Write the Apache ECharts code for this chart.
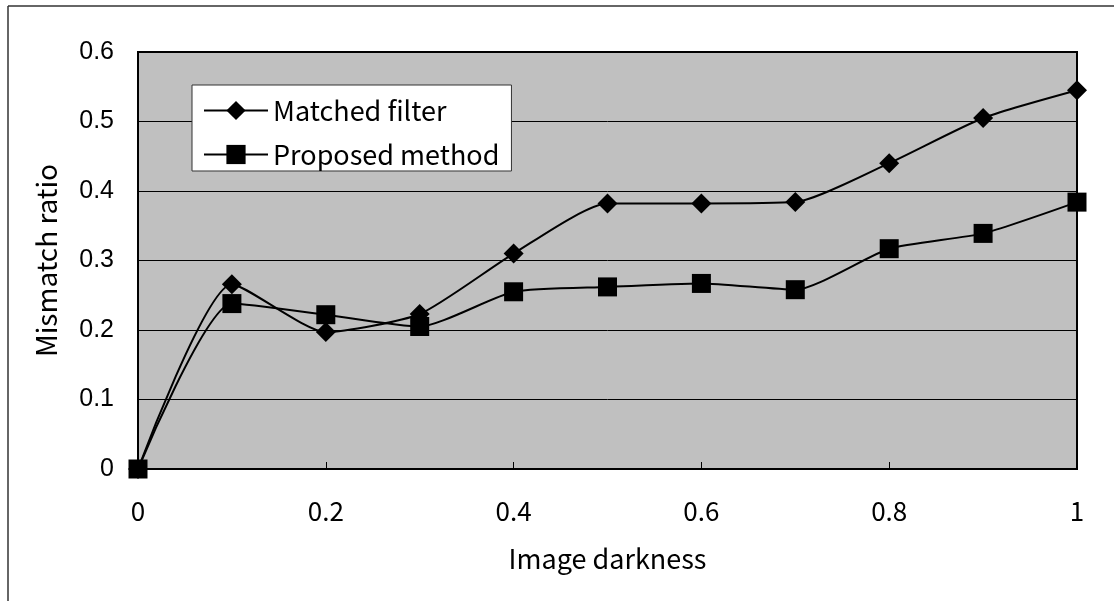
<!DOCTYPE html>
<html>
<head>
<meta charset="utf-8">
<script src="https://cdn.jsdelivr.net/npm/echarts@6/dist/echarts.min.js"></script>
<style>
  html, body { margin: 0; padding: 0; background: #fff; }
  #chart { width: 1114px; height: 601px; }
</style>
</head>
<body>
<div id="chart"></div>
<script>
// x positions (image darkness)
const darkness = [0, 0.1, 0.2, 0.3, 0.4, 0.5, 0.6, 0.7, 0.8, 0.9, 1.0];
// mismatch ratio
const matchedFilter = [0, 0.266, 0.197, 0.223, 0.31, 0.382, 0.382, 0.384, 0.44, 0.505, 0.545];
const proposedMethod = [0, 0.238, 0.222, 0.205, 0.255, 0.262, 0.267, 0.258, 0.317, 0.339, 0.384];

const seriesNames = ['Matched filter', 'Proposed method'];

const toPairs = (ys) => darkness.map((x, i) => [x, ys[i]]);

const chart = echarts.init(document.getElementById('chart'));

const jpFont = '"Noto Sans CJK JP", "Noto Sans", sans-serif';

chart.setOption({
  backgroundColor: '#fff',
  animation: false,
  graphic: [
    // outer frame (left and top edge only)
    { type: 'line', shape: { x1: 8, y1: 6, x2: 8, y2: 601 }, style: { stroke: '#333', lineWidth: 1.5 } },
    { type: 'line', shape: { x1: 8, y1: 6, x2: 1114, y2: 6 }, style: { stroke: '#333', lineWidth: 1.5 } },
  ],
  grid: {
    left: 138,
    top: 52,
    right: 37,
    bottom: 132,
    show: true,
    backgroundColor: '#c0c0c0',
    borderColor: '#000',
    borderWidth: 2,
  },
  legend: {
    left: 192,
    top: 85,
    orient: 'vertical',
    data: seriesNames,
    backgroundColor: '#fff',
    borderColor: '#333',
    borderWidth: 1,
    borderRadius: 0,
    padding: [12, 12, 3, 11],
    itemGap: 17,
    itemWidth: 64,
    itemHeight: 24,
    textStyle: { fontFamily: jpFont, fontSize: 27, lineHeight: 24, color: '#000' },
  },
  xAxis: {
    type: 'value',
    min: 0,
    max: 1,
    interval: 0.2,
    name: 'Image darkness',
    nameLocation: 'middle',
    nameGap: 76,
    nameTextStyle: { fontFamily: jpFont, fontSize: 27, color: '#000' },
    axisLine: { lineStyle: { color: '#000', width: 2 } },
    axisTick: { inside: true, length: 7, lineStyle: { color: '#000', width: 1 } },
    axisLabel: { margin: 29, fontFamily: jpFont, fontSize: 26, color: '#000' },
    splitLine: { show: false },
  },
  yAxis: {
    type: 'value',
    min: 0,
    max: 0.6,
    interval: 0.1,
    name: 'Mismatch ratio',
    nameLocation: 'middle',
    nameGap: 78,
    nameTextStyle: { fontFamily: jpFont, fontSize: 28, color: '#000' },
    axisLine: { show: true, lineStyle: { color: '#000', width: 2 } },
    axisTick: { show: false },
    axisLabel: { margin: 24, fontFamily: '"Liberation Sans", Arial, sans-serif', fontSize: 25, color: '#000' },
    splitLine: { lineStyle: { color: '#000', width: 1 } },
  },
  series: [
    {
      name: seriesNames[0],
      type: 'line',
      smooth: 0.2,
      clip: false,
      symbol: 'diamond',
      symbolSize: 20,
      itemStyle: { color: '#000' },
      lineStyle: { color: '#000', width: 2 },
      data: toPairs(matchedFilter),
    },
    {
      name: seriesNames[1],
      type: 'line',
      smooth: 0.2,
      clip: false,
      symbol: 'rect',
      symbolSize: 19,
      itemStyle: { color: '#000' },
      lineStyle: { color: '#000', width: 2 },
      data: toPairs(proposedMethod),
    },
  ],
});
</script>
</body>
</html>
